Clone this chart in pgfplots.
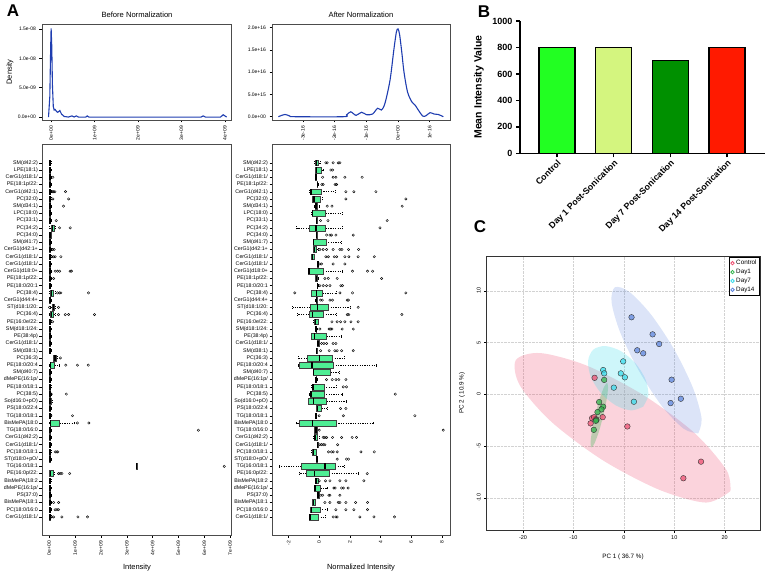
\documentclass[border=0pt]{standalone}
\usepackage{pgfplots}
\pgfplotsset{compat=1.18}
\usepgfplotslibrary{statistics}
\usepackage{fontspec}
\setmainfont{Liberation Sans}
\definecolor{dens}{HTML}{1F3DB0}
\definecolor{boxg}{HTML}{4EEE94}
\definecolor{cctrl}{HTML}{EE5072}
\definecolor{cday1}{HTML}{33B54D}
\definecolor{cday7}{HTML}{3ADCEC}
\definecolor{cday14}{HTML}{5E86DE}
\definecolor{bctrl}{HTML}{22FF22}
\definecolor{bday1}{HTML}{D4F57F}
\definecolor{bday7}{HTML}{009000}
\definecolor{bday14}{HTML}{FF1A00}

% \bx{position}{lower whisker}{lower quartile}{median}{upper quartile}{upper whisker}
\newcommand{\bx}[6]{\addplot[boxplot prepared={draw position=#1, lower whisker=#2,
  lower quartile=#3, median=#4, upper quartile=#5, upper whisker=#6}] coordinates {};}
\newcommand{\sm}[1]{\bx{#1}{-0.015}{0.0}{0.025}{0.05}{0.08}}

\def\lipidlabels{CerG1(d18:1/,PC(18:0/16:0,BisMePA(18:1,PS(37:0),dMePE(16:1p/,BisMePA(18:2,PE(16:0p/22:,TG(16:0/18:1,ST(d18:0+pO/,PC(18:0/18:1,CerG1(d18:1/,CerG1(d42:2),TG(18:0/16:0,BisMePA(18:0,TG(18:0/18:1,PS(18:0/22:4,So(d16:0+pO),PC(38:5),PE(18:0/18:1,dMePE(16:1p/,SM(d40:7),PE(18:0/20:4,PC(36:3),SM(d38:1),CerG1(d18:1/,PE(38:4p),SM(d18:1/24:,PE(16:0e/22:,PC(36:4),ST(d18:1/20:,CerG1(d44:4+,PC(38:4),PE(18:0/20:1,PE(18:1p/22:,CerG1(d18:0+,CerG1(d18:1/,CerG1(d18:1/,CerG1(d42:1+,SM(d41:7),PC(34:0),PC(34:2),PC(33:1),LPC(18:0),SM(d34:1),PC(32:0),CerG1(d42:1),PE(18:1p/22:,CerG1(d18:1/,LPE(18:1),SM(d42:2)}

\pgfplotsset{
  rstyle/.style={scale only axis, anchor=south west, tick align=outside,
    major tick length=2.5pt, xtick pos=left, ytick pos=left,
    tick style={black, line width=0.4pt},
    axis line style={line width=0.6pt, black!70},
    ticklabel style={font=\fontsize{5}{6}\selectfont},
    /pgf/number format/assume math mode=true,
    xticklabel style={rotate=90, anchor=east}},
  boxstyle/.style={boxplot/draw direction=x,
    boxplot/box extend=0.8, boxplot/whisker extend=0.4,
    boxplot/every box/.style={fill=boxg, draw=black!75, line width=0.45pt},
    boxplot/every median/.style={line width=1.4pt, black},
    boxplot/every whisker/.style={black, line width=0.45pt, dash pattern=on 1.2pt off 1.2pt},
    ymin=-1.5, ymax=52.6, ytick={1,...,50},
    yticklabels/.expand once=\lipidlabels,
    yticklabel style={font=\fontsize{5.3}{6}\selectfont, inner ysep=0.4pt, inner xsep=1.5pt}},
}

\begin{document}
\begin{tikzpicture}[x=1pt,y=1pt]
\useasboundingbox (0,0) rectangle (766,574);

% ---------- A: density before ----------
\begin{axis}[rstyle, at={(42pt,454pt)}, width=189pt, height=96pt,
  xmin=-0.21, xmax=4.14, ymin=-0.05, ymax=1.584,
  xtick={0,1,2,3,4}, xticklabels={0e+00,1e+09,2e+09,3e+09,4e+09},
  ytick={0,0.5,1,1.5}, yticklabels={0.0e+00,5.0e-09,1.0e-08,1.5e-08}]
\addplot[dens, line width=1.1pt] coordinates {
(-0.06,0) (-0.03,0.35) (-0.01,1.2) (0,1.51) (0.015,1.2) (0.03,0.55) (0.05,0.18)
(0.07,0.12) (0.09,0.13) (0.12,0.10) (0.15,0.08) (0.2,0.11) (0.24,0.05) (0.3,0.01)
(0.4,0) (0.48,0.02) (0.53,0) (0.58,0.02) (0.63,0) (0.8,0) (0.83,0.02) (0.87,0)
(3.45,0) (3.5,0.02) (3.55,0) (3.9,0) (3.96,0.04) (4.0,0.02) (4.04,0)};
\end{axis}

% ---------- A: density after ----------
\begin{axis}[rstyle, at={(272pt,454pt)}, width=178pt, height=96pt,
  xmin=-3.97, xmax=1.64, ymin=-0.074, ymax=2.08,
  xtick={-3,-2,-1,0,1}, xticklabels={-3e-16,-2e-16,-1e-16,0e+00,1e-16},
  ytick={0,0.5,1,1.5,2}, yticklabels={0.0e+00,5.0e+15,1.0e+16,1.5e+16,2.0e+16}]
\addplot[dens, line width=1.1pt, smooth, tension=0.5] coordinates {
(-3.77,0) (-3.56,0.05) (-3.41,0.015) (-3.25,0) (-1.72,0) (-1.62,0.04) (-1.49,0.11)
(-1.32,0.03) (-1.15,0.10) (-0.99,0.045) (-0.80,0.06) (-0.64,0.19) (-0.52,0.15)
(-0.41,0.30) (-0.25,0.82) (-0.13,1.5) (-0.05,1.9) (0,1.97) (0.05,1.85) (0.12,1.45)
(0.19,1.0) (0.3,0.56) (0.43,0.34) (0.54,0.26) (0.64,0.15) (0.78,0.015) (0.88,0.02)
(1.01,0.09) (1.14,0.06) (1.27,0.05) (1.43,0)};
\end{axis}

% ---------- A: boxplot before (units of 1e9) ----------
\begin{axis}[rstyle, boxstyle, at={(42pt,39pt)}, width=189pt, height=391pt,
  xmin=-0.28, xmax=7.03,
  xtick={0,...,7}, xticklabels={0e+00,1e+09,2e+09,3e+09,4e+09,5e+09,6e+09,7e+09}]
\sm{50} \sm{49} \sm{48} \sm{47} \sm{46} \sm{45} \sm{44} \sm{43} \sm{42}
\bx{41}{0.00}{0.06}{0.13}{0.19}{0.25}
\bx{40}{-0.015}{0.0}{0.03}{0.06}{0.09}
\sm{39} \sm{38} \sm{37} \sm{36} \sm{35} \sm{34} \sm{33}
\bx{32}{0.01}{0.04}{0.08}{0.14}{0.23}
\sm{31}
\bx{30}{0.05}{0.10}{0.17}{0.20}{0.23}
\bx{29}{0.01}{0.04}{0.08}{0.17}{0.24}
\sm{28} \sm{27} \sm{26} \sm{25} \sm{24}
\bx{23}{0.15}{0.17}{0.23}{0.28}{0.30}
\bx{22}{0.00}{0.04}{0.06}{0.21}{0.40}
\sm{21} \sm{20} \sm{19} \sm{18}
\bx{17}{-0.015}{0.0}{0.03}{0.07}{0.12}
\sm{16} \sm{15}
\bx{14}{0.00}{0.04}{0.06}{0.40}{0.97}
\sm{13} \sm{12} \sm{11} \sm{10} \sm{9}
\bx{8}{3.35}{3.36}{3.38}{3.41}{3.42}
\bx{7}{0.00}{0.01}{0.06}{0.14}{0.19}
\sm{6} \sm{5} \sm{4} \sm{3} \sm{2} \sm{1}
\addplot[only marks, mark=o, mark size=1.2pt, black, line width=0.4pt] table {
x y
0.14 48
0.06 46
0.12 46
0.17 46
0.22 46
0.63 46
0.14 45
0.75 45
0.55 44
0.27 42
0.40 41
0.81 41
0.06 38
0.13 38
0.19 38
0.10 37
0.17 37
0.23 37
0.45 37
0.06 35
0.23 35
0.32 35
0.40 35
0.81 35
0.86 35
0.17 34
0.32 32
0.40 32
0.45 32
1.52 32
0.01 30
0.36 30
0.36 29
0.62 29
0.75 29
1.75 29
0.13 28
0.43 23
0.64 22
1.09 22
1.51 22
0.08 18
0.66 18
0.06 15
0.90 15
1.09 14
1.53 14
5.77 13
0.23 10
0.30 10
0.33 10
6.77 8
0.36 7
0.42 7
0.49 7
0.79 7
0.17 3
0.36 3
0.23 2
0.30 2
0.36 2
0.10 1
0.17 1
0.49 1
1.11 1
1.48 1
};
\end{axis}

% ---------- A: boxplot after ----------
\begin{axis}[rstyle, boxstyle, at={(272pt,39pt)}, width=178pt, height=391pt,
  xmin=-3.08, xmax=8.53, xtick={-2,0,2,4,6,8}]
\bx{50}{-0.30}{-0.26}{-0.17}{-0.04}{0.05}
\bx{49}{-0.26}{-0.24}{-0.17}{0.15}{0.26}
\bx{48}{-0.25}{-0.24}{-0.22}{-0.20}{-0.19}
\bx{47}{-0.16}{-0.15}{-0.12}{-0.10}{-0.09}
\bx{46}{-0.63}{-0.61}{-0.54}{0.11}{1.04}
\bx{45}{-0.46}{-0.43}{-0.33}{0.04}{0.20}
\bx{44}{-0.30}{-0.28}{-0.22}{-0.13}{0.00}
\bx{43}{-0.50}{-0.48}{-0.43}{0.41}{1.48}
\bx{42}{-0.21}{-0.20}{-0.17}{-0.13}{-0.12}
\bx{41}{-1.48}{-0.65}{-0.20}{0.41}{1.48}
\bx{40}{-0.21}{-0.20}{-0.17}{-0.14}{-0.13}
\bx{39}{-0.40}{-0.39}{-0.37}{0.43}{1.41}
\bx{38}{-0.40}{-0.39}{-0.30}{-0.17}{-0.04}
\bx{37}{-0.51}{-0.50}{-0.43}{-0.35}{-0.33}
\bx{36}{-0.11}{-0.10}{-0.08}{-0.07}{-0.06}
\bx{35}{-0.74}{-0.72}{-0.67}{0.26}{1.48}
\bx{34}{-0.25}{-0.24}{-0.17}{-0.10}{-0.09}
\bx{33}{-0.16}{-0.15}{-0.12}{-0.10}{-0.09}
\bx{32}{-0.52}{-0.50}{-0.17}{0.22}{1.13}
\bx{31}{-0.23}{-0.22}{-0.19}{-0.15}{-0.14}
\bx{30}{-1.74}{-0.59}{-0.13}{0.59}{2.00}
\bx{29}{-1.41}{-0.65}{-0.43}{0.26}{1.09}
\bx{28}{-0.36}{-0.35}{-0.26}{-0.09}{-0.07}
\bx{27}{-0.23}{-0.22}{-0.20}{-0.17}{-0.16}
\bx{26}{-0.52}{-0.50}{-0.30}{0.48}{1.41}
\bx{25}{-0.14}{-0.13}{-0.09}{0.00}{0.02}
\bx{24}{-0.21}{-0.20}{-0.18}{-0.15}{-0.14}
\bx{23}{-1.37}{-0.78}{0.00}{0.85}{1.61}
\bx{22}{-1.36}{-1.33}{-0.48}{0.91}{3.74}
\bx{21}{-0.40}{-0.39}{-0.37}{0.74}{1.30}
\bx{20}{-0.23}{-0.22}{-0.20}{-0.17}{-0.16}
\bx{19}{-0.50}{-0.48}{-0.41}{0.30}{1.09}
\bx{18}{-0.63}{-0.61}{-0.54}{0.30}{1.48}
\bx{17}{-0.72}{-0.70}{-0.39}{0.48}{1.78}
\bx{16}{-0.18}{-0.17}{-0.11}{0.15}{0.52}
\bx{15}{-0.25}{-0.24}{-0.21}{-0.18}{-0.17}
\bx{14}{-1.48}{-1.30}{-0.43}{1.09}{3.52}
\bx{13}{-0.34}{-0.33}{-0.22}{-0.13}{-0.11}
\bx{12}{-0.36}{-0.35}{-0.28}{-0.13}{0.00}
\bx{11}{-0.14}{-0.13}{-0.11}{-0.09}{-0.08}
\bx{10}{-0.49}{-0.48}{-0.39}{-0.22}{-0.20}
\bx{9}{-0.18}{-0.17}{-0.15}{-0.13}{-0.12}
\bx{8}{-2.63}{-1.15}{0.37}{1.04}{1.61}
\bx{7}{-1.30}{-0.83}{-0.30}{0.65}{2.54}
\bx{6}{-0.23}{-0.22}{-0.20}{-0.07}{-0.05}
\bx{5}{-0.34}{-0.33}{-0.28}{0.09}{0.52}
\bx{4}{-0.14}{-0.13}{-0.09}{0.00}{0.02}
\bx{3}{-0.47}{-0.46}{-0.39}{-0.26}{-0.24}
\bx{2}{-0.59}{-0.57}{-0.52}{0.04}{0.52}
\bx{1}{-0.67}{-0.65}{-0.59}{-0.07}{0.37}
\addplot[only marks, mark=o, mark size=1.2pt, black, line width=0.4pt] table {
x y
0.43 50
0.52 50
0.91 50
1.24 50
1.35 50
0.76 49
0.87 49
0.22 48
0.91 48
1.09 48
1.67 48
2.80 48
0.17 47
0.26 47
1.04 47
1.13 47
1.74 46
2.26 46
3.70 46
1.74 45
5.65 45
0.52 44
0.83 44
5.41 44
0.09 42
0.57 42
4.43 42
3.96 41
0.48 40
0.70 40
0.80 40
1.09 40
2.22 40
0.04 38
0.26 38
0.48 38
0.91 38
1.35 38
1.48 38
1.91 38
2.57 38
0.43 37
0.59 37
0.98 37
1.13 37
1.67 37
1.93 37
2.54 37
3.59 37
0.04 36
0.15 36
0.91 36
1.67 36
2.17 35
3.15 35
3.48 35
0.37 34
0.59 34
1.17 34
4.07 34
0.04 33
0.26 33
0.48 33
0.70 33
1.41 33
1.52 33
-1.59 32
1.35 32
2.17 32
5.65 32
0.09 31
0.20 31
0.70 31
0.87 31
1.83 31
1.91 31
2.54 30
1.83 29
1.93 29
5.39 29
0.83 28
1.17 28
1.39 28
1.67 28
2.07 28
2.54 28
0.04 27
0.65 27
0.74 27
0.83 27
1.50 27
2.22 27
0.15 25
0.30 25
0.48 25
0.91 25
1.09 25
0.09 24
0.65 24
1.02 24
1.17 24
1.46 24
2.22 24
0.48 20
0.85 20
1.09 20
1.28 20
1.74 20
1.57 19
1.78 19
4.96 18
1.39 16
1.74 16
0.00 15
1.57 15
6.24 15
0.00 13
8.09 13
0.26 12
0.37 12
0.48 12
0.87 12
1.46 12
2.15 12
2.43 12
0.04 11
0.15 11
0.26 11
0.37 11
1.20 11
0.61 10
0.80 10
0.91 10
1.17 10
2.72 10
3.59 10
1.17 9
1.78 9
1.91 9
3.13 7
0.00 6
0.41 6
0.70 6
1.35 6
1.74 6
2.91 6
0.96 5
1.04 5
1.46 5
1.57 5
1.89 5
0.11 4
0.22 4
0.63 4
0.70 4
1.35 4
0.37 3
0.70 3
1.24 3
1.35 3
1.74 3
2.37 3
3.15 3
1.09 2
1.74 2
2.26 2
3.15 2
0.91 1
1.09 1
1.17 1
2.65 1
3.57 1
4.91 1
};
\end{axis}

% A texts
\node[font=\bfseries\fontsize{17}{17}\selectfont] at (13,563) {A};
\node[font=\fontsize{7.6}{8}\selectfont] at (137,559) {Before Normalization};
\node[font=\fontsize{7.6}{8}\selectfont] at (361,559) {After Normalization};
\node[font=\fontsize{7.5}{8}\selectfont, rotate=90] at (10,502) {Density};
\node[font=\fontsize{7.5}{8}\selectfont] at (137,6) {Intensity};
\node[font=\fontsize{7.5}{8}\selectfont] at (361,6) {Normalized Intensity};

% ---------- B: bar chart ----------
\begin{axis}[at={(520pt,420.7pt)}, anchor=south west, scale only axis,
  width=245pt, height=132.3pt, xmin=0.35, xmax=4.67, ymin=0, ymax=1000,
  axis lines=left, axis line style={-, line width=1.4pt, black},
  tick align=outside, major tick length=4pt, tick style={line width=1.4pt, black},
  ytick={0,200,400,600,800,1000}, xtick={1,2,3,4},
  xticklabels={Control,Day 1 Post-Sonication,Day 7 Post-Sonication,Day 14 Post-Sonication},
  xticklabel style={rotate=45, anchor=north east, inner sep=1pt, font=\bfseries\fontsize{8.8}{10}\selectfont},
  yticklabel style={font=\bfseries\fontsize{9}{10}\selectfont},
  /pgf/number format/1000 sep={},
  /pgf/number format/assume math mode=true, clip=false]
\addplot[ybar, bar shift=0pt, bar width=36pt, fill=bctrl, draw=black, line width=1.4pt] coordinates {(1,800)};
\addplot[ybar, bar shift=0pt, bar width=36pt, fill=bday1, draw=black, line width=1.4pt] coordinates {(2,800)};
\addplot[ybar, bar shift=0pt, bar width=36pt, fill=bday7, draw=black, line width=1.4pt] coordinates {(3,700)};
\addplot[ybar, bar shift=0pt, bar width=36pt, fill=bday14, draw=black, line width=1.4pt] coordinates {(4,800)};
\end{axis}
\node[font=\bfseries\fontsize{17}{17}\selectfont] at (484,562) {B};
\node[font=\bfseries\fontsize{10.5}{11}\selectfont, rotate=90] at (479,487) {Mean Intensity Value};

% ---------- C: PCA ----------
\begin{axis}[at={(486.7pt,44pt)}, anchor=south west, scale only axis,
  width=273.3pt, height=273.3pt, xmin=-27.2, xmax=27.0, ymin=-13.1, ymax=13.3,
  xtick={-20,-10,0,10,20}, ytick={-10,-5,0,5,10},
  tick align=outside, major tick length=2.5pt, xtick pos=left, ytick pos=left,
  tick style={black, line width=0.4pt},
  axis line style={line width=0.9pt, black!80},
  grid=major, grid style={densely dotted, gray!35, line width=0.5pt},
  ticklabel style={font=\fontsize{5.5}{6}\selectfont},
  yticklabel style={rotate=90, anchor=south},
  /pgf/number format/assume math mode=true,
  legend style={at={(1,1)}, anchor=north east, draw=black, line width=0.9pt,
    font=\fontsize{6.3}{7}\selectfont, inner sep=1pt, row sep=-1pt},
  legend cell align=left]
\addplot[fill=cctrl, fill opacity=0.25, draw=none, smooth, forget plot] coordinates {
(21.14,-9.34) (20.34,-7.31) (14.03,-3.74) (3.94,-0.09) (-7.26,2.76) (-16.53,3.99)
(-21.42,3.31) (-20.61,0.86) (-14.3,-2.68) (-4.19,-6.36) (7.0,-9.21) (16.27,-10.45) (21.14,-9.34)};
\addplot[fill=cday1, fill opacity=0.3, draw=none, smooth, forget plot] coordinates {
(-3.31,1.13) (-3.13,0.66) (-3.42,-0.51) (-4.1,-2.09) (-4.98,-3.64) (-5.84,-4.75)
(-6.42,-5.13) (-6.6,-4.66) (-6.3,-3.49) (-5.63,-1.91) (-4.75,-0.36) (-3.9,0.75) (-3.31,1.13)};
\addplot[fill=cday7, fill opacity=0.25, draw=none, smooth, forget plot] coordinates {
(3.82,-1.19) (4.85,-0.10) (4.28,1.47) (2.25,3.03) (-0.67,4.20) (-3.72,4.67)
(-6.07,4.32) (-7.1,3.22) (-6.53,1.66) (-4.5,0.1) (-1.58,-1.07) (1.47,-1.55) (3.82,-1.19)};
\addplot[fill=cday14, fill opacity=0.22, draw=none, smooth, forget plot] coordinates {
(14.75,-3.77) (15.42,-2.33) (13.71,0.62) (10.05,4.28) (5.44,7.68) (1.12,9.89)
(-1.77,10.35) (-2.44,8.9) (-0.73,5.99) (2.93,2.33) (7.54,-1.13) (11.86,-3.32) (14.75,-3.77)};
\addplot[only marks, mark=*, mark size=2.8pt, forget plot,
  mark options={fill=cctrl, fill opacity=0.75, draw=black!80, line width=0.4pt}] coordinates {
(-5.8,1.6) (-6.3,-2.3) (-6.6,-2.8) (-5.9,-2.2) (-5.5,-2.4) (-4.2,-2.2) (0.7,-3.1) (15.3,-6.5) (11.8,-8.1)};
\addplot[only marks, mark=*, mark size=2.8pt, forget plot,
  mark options={fill=cday1, fill opacity=0.75, draw=black!80, line width=0.4pt}] coordinates {
(-3.9,1.4) (-4.9,-0.74) (-4.1,-1.19) (-4.44,-1.45) (-5.23,-1.71) (-5.43,-2.48) (-5.56,-2.55) (-5.96,-3.42)};
\addplot[only marks, mark=*, mark size=2.8pt, forget plot,
  mark options={fill=cday7, fill opacity=0.75, draw=black!80, line width=0.4pt}] coordinates {
(-4.1,2.35) (-3.9,2.03) (-0.13,3.19) (-0.6,2.03) (0.2,1.65) (-1.99,0.65) (1.99,-0.71)};
\addplot[only marks, mark=*, mark size=2.8pt, forget plot,
  mark options={fill=cday14, fill opacity=0.75, draw=black!80, line width=0.4pt}] coordinates {
(1.52,7.45) (5.7,5.8) (7.0,4.87) (2.65,4.26) (3.84,3.97) (9.47,1.42) (11.3,-0.42) (9.27,-0.84)};
\addlegendimage{only marks, mark=o, mark size=1.7pt, cctrl, line width=0.8pt}
\addlegendentry{Control}
\addlegendimage{only marks, mark=o, mark size=1.7pt, cday1, line width=0.8pt}
\addlegendentry{Day1}
\addlegendimage{only marks, mark=o, mark size=1.7pt, cday7, line width=0.8pt}
\addlegendentry{Day7}
\addlegendimage{only marks, mark=o, mark size=1.7pt, cday14, line width=0.8pt}
\addlegendentry{Day14}
\end{axis}
\node[font=\bfseries\fontsize{17}{17}\selectfont] at (480,347) {C};
\node[font=\fontsize{6.3}{7}\selectfont] at (623,17) {PC 1 ( 36.7 \%)};
\node[font=\fontsize{6.3}{7}\selectfont, rotate=90] at (462,181) {PC 2 ( 10.9 \%)};
\end{tikzpicture}
\end{document}
